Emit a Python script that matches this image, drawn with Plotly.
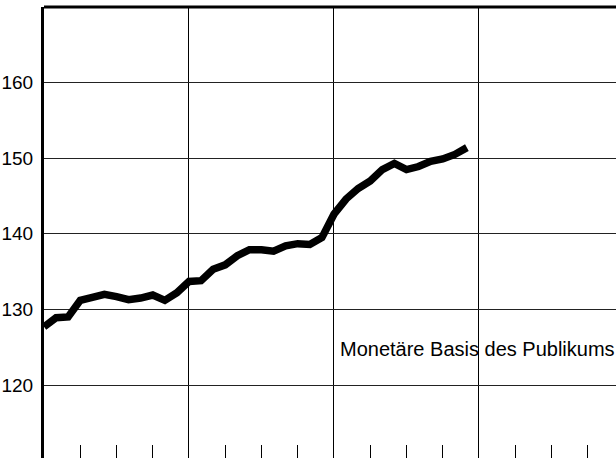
import plotly.graph_objects as go

# Monthly index values (36 months, 3 years)
months = list(range(36))
values = [127.7, 128.9, 129.0, 131.2, 131.6, 132.0, 131.7, 131.3, 131.5, 131.9,
          131.2, 132.2, 133.7, 133.8, 135.3, 135.9, 137.1, 137.9, 137.9, 137.7,
          138.4, 138.7, 138.6, 139.5, 142.6, 144.6, 146.0, 147.0, 148.5, 149.3,
          148.5, 148.9, 149.6, 149.9, 150.5, 151.4]

year_starts = [12, 24, 36]
quarter_ticks = [3, 6, 9, 15, 18, 21, 27, 30, 33, 39, 42, 45]
y_ticks = [120, 130, 140, 150, 160]
y_labels = ["120", "130", "140", "150", "160"]
label_text = "Monetäre Basis des Publikums"

fig = go.Figure()
fig.add_trace(go.Scatter(
    x=months, y=values, mode="lines",
    line=dict(color="black", width=7.5),
    hoverinfo="skip", showlegend=False,
))

fig.add_annotation(
    x=24.3, y=124.8, xref="x", yref="y", text=label_text,
    showarrow=False, xanchor="left", yanchor="middle",
    font=dict(family="Liberation Sans, Arial, sans-serif", size=20, color="black"),
)

# top border
fig.add_shape(type="line", xref="paper", yref="paper", x0=0, x1=1, y0=1, y1=1,
              line=dict(color="black", width=3))

fig.update_layout(
    width=616, height=458,
    margin=dict(l=44, r=0, t=7, b=0),
    plot_bgcolor="white", paper_bgcolor="white",
    xaxis=dict(
        range=[0, 47.34],
        tickvals=year_starts, showticklabels=False, ticks="",
        showgrid=True, gridcolor="black", gridwidth=1.4,
        zeroline=False, showline=False,
        minor=dict(tickvals=quarter_ticks, ticks="inside", ticklen=13,
                   tickwidth=1.4, tickcolor="black", showgrid=False),
    ),
    yaxis=dict(
        range=[110.35, 170],
        tickvals=y_ticks, ticktext=y_labels,
        showgrid=True, gridcolor="#222", gridwidth=1.4,
        zeroline=False, showline=True, linecolor="black", linewidth=3,
        ticks="", ticklabelstandoff=4,
        tickfont=dict(family="Liberation Sans, Arial, sans-serif", size=19, color="black"),
    ),
)

fig.write_html("out.html", config={"displayModeBar": False},
               post_script="document.body.style.margin='0';")
